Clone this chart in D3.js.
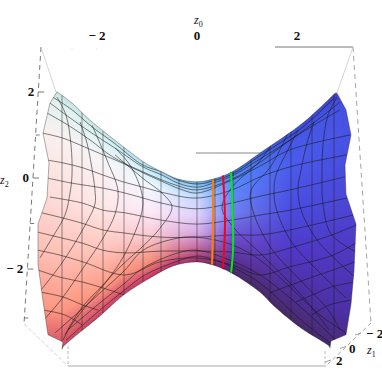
<!DOCTYPE html>
<html>
<head>
<meta charset="utf-8">
<style>
html, body { margin: 0; padding: 0; background: #fff; }
text { font-family: "Liberation Serif", serif; fill: #111; }
</style>
<script src="https://cdn.jsdelivr.net/npm/d3@7"></script>
</head>
<body>
<div id="block"></div>
<script>
// axis ticks
var z0Ticks = [-2, 0, 2];
var z1Ticks = [-2, 0, 2];
var z2Ticks = [-2, 0, 2];
var z2MinorTicks = [-3, -1, 1];

// surface boundary, [z0, z2]
var topEdge = [[-2.8, 1.96], [-2.5, 1.71], [-2.14, 1.33], [-1.44, 0.71], [-1.04, 0.38], [-0.7, 0.18], [-0.38, 0.02], [0, -0.04], [0.32, 0.02], [0.7, 0.18], [1.26, 0.6], [2.12, 1.27], [2.76, 1.93]];
var rightEdge = [[2.76, 1.93], [2.8, 1.93], [2.98, 1.56], [3.08, 1], [2.96, 0.33], [2.98, -0.31], [3.18, -0.98], [3.14, -2.02], [3.08, -2.76], [2.98, -3.44], [2.68, -3.58], [2.66, -3.73]];
var bottomEdge = [[-2.7, -3.76], [-2.68, -3.71], [-1.94, -3.02], [-1.44, -2.53], [-0.94, -2.18], [-0.48, -1.91], [0, -1.82], [0.32, -1.89], [0.7, -2.07], [1.26, -2.49], [1.54, -2.8], [2.08, -3.29], [2.64, -3.69], [2.66, -3.73]];
var leftEdge = [[-2.7, -3.76], [-2.68, -3.6], [-2.98, -3.44], [-3.08, -2.69], [-3.18, -1.87], [-3.18, -0.98], [-3, -0.4], [-2.96, 0.38], [-3.08, 1.04], [-2.94, 1.71], [-2.8, 1.96]];

// mesh: lines of constant z0
var meshZ0 = [-2.7, -2.3, -1.88, -1.46, -1.08, -0.72, -0.36, 0, 0.36, 0.72, 1.08, 1.46, 1.88, 2.3, 2.74];

// mesh: long rows running across the surface
var meshRows = [
    [[-2.88, 1.84], [-2.5, 1.56], [-2.1, 1.18], [-1.68, 0.84], [-1.08, 0.33], [-0.7, 0.18], [-0.38, 0], [0, -0.09], [0.32, -0.02], [0.7, 0.13], [1.22, 0.51], [2.12, 1.18], [2.76, 1.84]],
    [[-2.94, 1.71], [-2.54, 1.38], [-2.1, 1.04], [-1.64, 0.71], [-1.08, 0.29], [-0.7, 0.11], [-0.38, -0.07], [0, -0.16], [0.32, -0.07], [0.7, 0.09], [1.22, 0.44], [1.86, 0.89], [2.46, 1.38], [2.86, 1.73]],
    [[-3, 1.49], [-2.58, 1.22], [-2.14, 0.89], [-1.68, 0.51], [-1.08, 0.18], [-0.38, -0.13], [0, -0.22], [0.7, 0.02], [1.22, 0.36], [1.92, 0.93], [2.86, 1.56]],
    [[-3.08, 1.04], [-2.68, 0.93], [-2.24, 0.73], [-1.88, 0.56], [-1.5, 0.38], [-1.08, 0.16], [-0.68, -0.04], [-0.34, -0.2], [0, -0.29], [0.7, 0], [1.26, 0.31], [1.86, 0.67], [3.06, 1]],
    [[-2.98, 0.44], [-2.68, 0.38], [-2.28, 0.27], [-1.88, 0.11], [-1.48, -0.04], [-1.08, -0.16], [-0.64, -0.29], [0, -0.4], [0.7, -0.22], [1.26, 0.07], [1.92, 0.31], [3, 0.56]],
    [[-2.98, 0.04], [-2.5, -0.07], [-1.88, -0.18], [-1.44, -0.29], [-1.08, -0.4], [-0.72, -0.51], [0, -0.64], [0.7, -0.51], [1.26, -0.36], [1.86, -0.22], [2.96, 0.07]],
    [[-2.94, -0.38], [-2.3, -0.51], [-1.88, -0.67], [-1.44, -0.73], [-0.72, -0.89], [0, -0.98], [0.7, -0.89], [1.26, -0.78], [1.86, -0.67], [3, -0.4]],
    [[-3.1, -0.73], [-2.7, -0.84], [-2.3, -0.96], [-1.88, -1.11], [-1.44, -1.18], [-0.72, -1.27], [0, -1.27], [0.7, -1.22], [1.26, -1.22], [1.86, -1.11], [3.12, -0.78]],
    [[-3.18, -1.16], [-2.7, -1.29], [-2.3, -1.4], [-1.88, -1.56], [-1.44, -1.62], [-0.72, -1.58], [0, -1.58], [0.7, -1.6], [1.26, -1.67], [1.86, -1.51], [2.7, -1.22], [3.18, -1]],
    [[-3.18, -1.56], [-2.74, -1.67], [-2.28, -1.82], [-1.44, -2.11], [-0.74, -1.82], [0, -1.73], [0.7, -1.89], [1.26, -2.11], [1.86, -1.93], [2.72, -1.67], [3.18, -1.4]],
    [[-2.62, -3.56], [-1.94, -2.89], [-1.44, -2.44], [-1.04, -2.11], [-0.38, -1.8], [0, -1.69], [0.32, -1.76], [0.7, -1.93], [1.26, -2.29], [2.08, -3.11], [2.66, -3.62]],
    [[-2.58, -3.33], [-1.94, -2.73], [-1.44, -2.29], [-1.08, -1.96], [-0.38, -1.62], [0, -1.56], [0.7, -1.8], [1.26, -2.11], [1.74, -2.51], [2.32, -3.07], [2.78, -3.56]],
    [[-2.84, -3.4], [-1.94, -2.51], [-1.44, -2], [-1.08, -1.56], [-0.38, -1.29], [0, -1.27], [0.7, -1.44], [1.26, -1.78], [1.86, -2.38], [2.46, -3], [2.98, -3.4]]
];

// mesh: short rows in the lower corners
var meshCornerRows = [
    [[-3.18, -2], [-2.74, -2.16], [-2.28, -2.27], [-1.88, -2.4], [-1.44, -2.56]],
    [[1.46, -2.51], [1.88, -2.33], [2.3, -2.16], [2.72, -2], [3.16, -1.82]],
    [[-3.14, -2.49], [-2.68, -2.6], [-2.28, -2.78], [-1.98, -2.89]],
    [[1.98, -2.71], [2.3, -2.56], [2.68, -2.38], [3.14, -2.27]],
    [[-3.08, -2.89], [-2.64, -3], [-2.3, -3.22]],
    [[2.3, -3], [2.64, -2.78], [3.08, -2.67]]
];

// mesh: the bent hyperbola arcs on both wings
var meshArcs = [
    [[-2.8, 1.84], [-2.62, 1.44], [-2.52, 0.78], [-2.5, 0.11], [-2.54, -0.29], [-2.64, -0.78], [-2.9, -1.29], [-3.14, -1.73]],
    [[-2.34, 1.29], [-2.2, 0.82], [-2.08, 0.11], [-2.04, -0.24], [-2.04, -0.53], [-2.28, -1.09], [-2.7, -1.84], [-3.14, -2.47]],
    [[-2.1, 1.22], [-1.8, 0.44], [-1.58, -0.24], [-1.64, -0.76], [-1.88, -1.29], [-2.28, -1.96], [-2.74, -2.69], [-3.08, -3.13]],
    [[-1.64, 0.71], [-1.34, 0.33], [-1.1, -0.31], [-1.1, -0.69], [-1.44, -1.64], [-1.8, -2.24], [-2.5, -3.2], [-2.68, -3.56]],
    [[-1.64, 0.56], [-1.28, 0.22], [-1.04, 0], [-0.7, -0.29], [-0.5, -0.6], [-0.74, -1.07], [-1.08, -1.47], [-1.48, -1.87], [-1.94, -2.4], [-2.34, -2.89], [-2.64, -3.44]],
    [[1.46, 0.73], [1.22, 0.38], [0.7, -0.16], [0.5, -0.62], [0.72, -1.04], [1.26, -1.62], [1.86, -2.29], [2.26, -2.78], [2.64, -3.33]],
    [[1.82, 1.04], [1.48, 0.31], [1.08, -0.24], [1.12, -0.69], [1.48, -1.51], [2.14, -2.31], [2.64, -2.91], [2.86, -3.33]],
    [[2.02, 1.11], [1.82, 0.67], [1.58, 0.11], [1.54, -0.24], [1.58, -0.62], [1.88, -1.36], [2.42, -2.02], [2.98, -2.62]],
    [[2.34, 1.29], [2.2, 0.82], [2.08, 0.22], [2.02, -0.22], [2.1, -0.73], [2.42, -1.36], [2.74, -1.73], [3.18, -2.18]],
    [[2.8, 1.84], [2.62, 1.44], [2.52, 0.78], [2.5, 0.11], [2.52, -0.53], [2.68, -1.2], [3.18, -1.6]]
];

// the three marked curves
var orangeCurve = [[0.32, 0.02], [0.32, -1], [0.3, -1.89]];
var redCurve = [[0.52, 0.1], [0.54, -0.25], [0.56, -0.98], [0.52, -1.98]];
var greenCurve = [[0.68, 0.18], [0.7, -0.25], [0.72, -1.58], [0.68, -2.07]];

// surface shading: one colour column per z0 stop, from the top edge to the bottom edge
var shadeZ0 = [-3.14, -1.94, -0.94, 0, 0.7, 1.86, 3.06];
var shadeDepth = [0, 0.04, 0.16, 0.4, 0.62, 0.85, 0.97, 1];
var shadeColumns = [
    ["#c8e4e0", "#e4f2f0", "#f9efed", "#fddad6", "#fdbeb4", "#fb9480", "#d85a68", "#c04866"],
    ["#c0e4e4", "#dcf2f2", "#f8f4f6", "#fee8e8", "#ffc8c0", "#ff9a84", "#d45068", "#b03862"],
    ["#a8d8ec", "#c8eef8", "#f0f8fe", "#fde8f8", "#f8c8d0", "#f48a78", "#c83c64", "#a02c60"],
    ["#68a8e0", "#90c8f4", "#c0d8ff", "#e0d0fc", "#d8a8e4", "#bc5c90", "#a03070", "#8a2860"],
    ["#4070d8", "#5088f0", "#5a88ff", "#7080f0", "#7050d0", "#5c3094", "#4a2a70", "#402860"],
    ["#3f50d8", "#4658e6", "#4a5cec", "#4a4ce0", "#5038c8", "#4e2e98", "#4a2c70", "#402860"],
    ["#3c3ec8", "#4450e0", "#4852e4", "#4a48d8", "#5038c0", "#4c30a8", "#4a2c80", "#402c70"]
];

// dimensions
var svg_dx = 382,
    svg_dy = 382;

// scales
var x = d3.scaleLinear().domain([-2, 2]).range([97, 297]);
var y = d3.scaleLinear().domain([-2, 2]).range([270, 90]);

// the printed z2 ticks sit on the far box edge, so they get their own scale
var z2Axis = d3.scaleLinear().domain([-3, -2, 0, 2]).range([318, 269, 178, 92]);
var z2AxisX = d3.scaleLinear().domain([47, 324]).range([41, 24]);
var z1AxisX = d3.scaleLinear().domain([-2, 2]).range([361, 331]);
var z1AxisY = d3.scaleLinear().domain([-2, 2]).range([333, 360]);

var topY = d3.scaleLinear().domain(topEdge.map(function (d) { return x(d[0]); })).range(topEdge.map(function (d) { return y(d[1]); })).clamp(true);
var bottomY = d3.scaleLinear().domain(bottomEdge.map(function (d) { return x(d[0]); })).range(bottomEdge.map(function (d) { return y(d[1]); })).clamp(true);

var svg = d3.select("#block")
            .append("svg")
            .attr("width", svg_dx)
            .attr("height", svg_dy)
            .style("display", "block");

var line = d3.line()
             .x(function (d) { return x(d[0]); })
             .y(function (d) { return y(d[1]); });

function smooth(d) { return line.curve(d3.curveCatmullRom)(d); }
function straight(d) { return line.curve(d3.curveLinear)(d); }

// outline of the surface, used as clip and stroke
var outline = smooth(topEdge)
            + straight(rightEdge).replace(/^M/, "L")
            + smooth(bottomEdge.slice().reverse()).replace(/^M/, "L")
            + straight(leftEdge).replace(/^M/, "L") + "Z";

svg.append("clipPath")
   .attr("id", "surface")
   .append("path")
   .attr("d", outline);

// box behind the surface
var box = svg.append("g").attr("fill", "none");

function boxLine(x1, y1, x2, y2, color, dash, w) {
    box.append("line")
       .attr("x1", x1).attr("y1", y1)
       .attr("x2", x2).attr("y2", y2)
       .attr("stroke", color)
       .attr("stroke-width", w || 1)
       .attr("stroke-dasharray", dash || null);
}

boxLine(41, 47, 24, 324, "#555", "5,4", 0.8);
boxLine(275, 47, 353, 47, "#777", null, 1);
boxLine(196, 153, 261, 153, "#888", null, 1);
boxLine(68, 366, 326, 366, "#aaa", null, 1);
boxLine(353, 47, 371, 323, "#999", "5,4", 0.9);
boxLine(371, 323, 326, 366, "#999", "4,3", 0.9);
boxLine(41, 47, 56, 92, "#ccc", null, 0.8);
boxLine(353, 47, 337, 93, "#ccc", null, 0.8);
boxLine(24, 324, 68, 366, "#ccc", "4,2", 0.9);
boxLine(68, 346, 68, 366, "#aaa", "3,2", 0.8);
boxLine(325, 351, 325, 366, "#aaa", "3,2", 0.8);

// z2 ticks
svg.append("g").selectAll("line")
   .data(z2Ticks.concat(z2MinorTicks))
   .enter()
   .append("line")
   .attr("x1", function (d) { return z2AxisX(z2Axis(d)); })
   .attr("x2", function (d) { return z2AxisX(z2Axis(d)) + (z2Ticks.indexOf(d) >= 0 ? 6 : 4); })
   .attr("y1", function (d) { return z2Axis(d); })
   .attr("y2", function (d) { return z2Axis(d); })
   .attr("stroke", "#555")
   .attr("stroke-width", 0.8);

// z0 ticks on the top edge are barely visible
svg.append("g").selectAll("circle")
   .data(z0Ticks.slice(0, 1).concat([-2.5, -3]))
   .enter()
   .append("circle")
   .attr("cx", function (d) { return x(d); })
   .attr("cy", 49)
   .attr("r", 0.6)
   .attr("fill", "#ccc");

// z1 ticks
svg.append("g").selectAll("line")
   .data(z1Ticks)
   .enter()
   .append("line")
   .attr("x1", function (d) { return z1AxisX(d); })
   .attr("x2", function (d) { return z1AxisX(d) - 6; })
   .attr("y1", function (d) { return z1AxisY(d); })
   .attr("y2", function (d) { return z1AxisY(d) + 2; })
   .attr("stroke", "#888")
   .attr("stroke-width", 0.8);

// surface fill, small cells coloured from the shading table
var cells = [];
d3.range(36, 358, 2).forEach(function (px) {
    var t = topY(px), b = bottomY(px);
    d3.range(90, 352, 2).forEach(function (py) {
        cells.push([px, py, (py - t) / (b - t)]);
    });
});

var depthColumns = shadeColumns.map(function (c) {
    return d3.scaleLinear().domain(shadeDepth).range(c).clamp(true);
});

function cellColor(d) {
    var row = depthColumns.map(function (s) { return s(d[2]); });
    return d3.scaleLinear().domain(shadeZ0).range(row).clamp(true)(x.invert(d[0]));
}

svg.append("g")
   .attr("clip-path", "url(#surface)")
   .attr("shape-rendering", "crispEdges")
   .selectAll("rect")
   .data(cells)
   .enter()
   .append("rect")
   .attr("x", function (d) { return d[0]; })
   .attr("y", function (d) { return d[1]; })
   .attr("width", 2)
   .attr("height", 2)
   .attr("fill", cellColor);

// mesh
var mesh = svg.append("g")
              .attr("clip-path", "url(#surface)")
              .attr("fill", "none")
              .attr("stroke", "#1a1a1a")
              .attr("stroke-opacity", 0.8)
              .attr("stroke-width", 0.7);

mesh.selectAll("line")
    .data(meshZ0)
    .enter()
    .append("line")
    .attr("x1", function (d) { return x(d); })
    .attr("x2", function (d) { return x(d); })
    .attr("y1", y(2))
    .attr("y2", y(-4))
    .attr("stroke-opacity", 0.65);

mesh.selectAll("path")
    .data(meshRows.concat(meshCornerRows).concat(meshArcs))
    .enter()
    .append("path")
    .attr("d", smooth);

// marked curves
svg.append("g")
   .attr("fill", "none")
   .attr("stroke-width", 2)
   .selectAll("path")
   .data([[orangeCurve, "#ff8000"], [redCurve, "#f5001e"], [greenCurve, "#00ec14"]])
   .enter()
   .append("path")
   .attr("stroke", function (d) { return d[1]; })
   .attr("d", function (d) { return smooth(d[0]); });

// surface outline
svg.append("path")
   .attr("d", outline)
   .attr("fill", "none")
   .attr("stroke", "#222")
   .attr("stroke-opacity", 0.6)
   .attr("stroke-width", 0.6);

// labels
function tickLabel(s) { return s < 0 ? "\u2212 " + (-s) : "" + s; }

svg.append("g").selectAll("text")
   .data(z0Ticks)
   .enter()
   .append("text")
   .attr("x", function (d) { return x(d); })
   .attr("y", 40)
   .attr("text-anchor", "middle")
   .attr("font-size", 13)
   .attr("font-weight", "bold")
   .text(tickLabel);

svg.append("g").selectAll("text")
   .data(z2Ticks)
   .enter()
   .append("text")
   .attr("x", function (d) { return z2AxisX(z2Axis(d)) - 4; })
   .attr("y", function (d) { return z2Axis(d) + 4; })
   .attr("text-anchor", "end")
   .attr("font-size", 13)
   .attr("font-weight", "bold")
   .text(tickLabel);

var z1Labels = svg.append("g");
z1Labels.append("text").attr("x", 366).attr("y", 338).attr("font-size", 13).attr("font-weight", "bold").text(tickLabel(z1Ticks[0]));
z1Labels.append("text").attr("x", 349).attr("y", 353).attr("font-size", 13).attr("font-weight", "bold").text(tickLabel(z1Ticks[1]));
z1Labels.append("text").attr("x", 336).attr("y", 365).attr("font-size", 13).attr("font-weight", "bold").text(tickLabel(z1Ticks[2]));

function axisName(px, py, sub) {
    var t = svg.append("text")
               .attr("x", px)
               .attr("y", py)
               .attr("font-size", 12)
               .attr("font-style", "italic")
               .text("z");
    t.append("tspan")
     .attr("dy", 3)
     .attr("font-size", 8)
     .attr("font-style", "normal")
     .text(sub);
}

axisName(194, 24, "0");
axisName(367, 354, "1");
axisName(0, 184, "2");
</script>
</body>
</html>
